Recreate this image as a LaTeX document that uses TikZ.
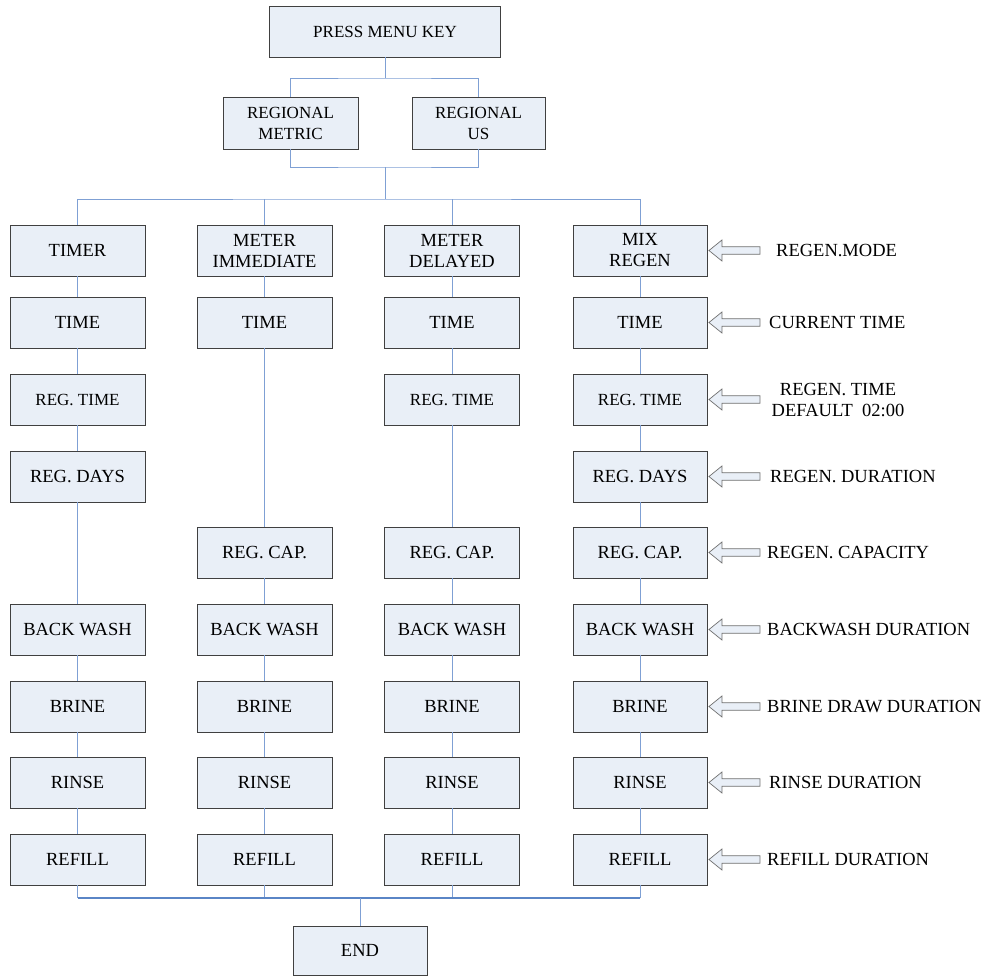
\documentclass[tikz,border=0pt]{standalone}
\usepackage{fontspec}
\setmainfont{Liberation Serif}
\definecolor{boxfill}{HTML}{E9EFF7}
\definecolor{boxline}{HTML}{404040}
\definecolor{connline}{HTML}{7FA0D4}
\definecolor{busline}{HTML}{5A85C6}
\definecolor{arrline}{HTML}{6E6E6E}
\begin{document}
\begin{tikzpicture}[x=1pt,y=-1pt,
  box/.style={draw=boxline,fill=boxfill,line width=0.9pt,minimum width=135pt,minimum height=51pt,inner sep=0pt,align=center,font=\fontsize{18.5}{21}\selectfont},
  topbox/.style={box,font=\fontsize{17}{21}\selectfont},
  narrowtxt/.style={font=\fontsize{17}{21}\selectfont},
  conn/.style={draw=connline,line width=0.8pt},
  bus/.style={draw=busline,line width=1.4pt},
  blockarrow/.style={draw=arrline,fill=boxfill,line width=0.7pt,line join=miter},
  lbl/.style={anchor=west,inner sep=0pt,align=center,font=\fontsize{18.5}{21}\selectfont}]
\useasboundingbox (0,0) rectangle (993,978);
% top
\node[topbox,minimum width=231pt] (pmk) at (385,31.5) {PRESS MENU KEY};
\node[topbox,minimum height=52pt] (rm) at (290.5,123) {REGIONAL\\METRIC};
\node[topbox,minimum width=133pt,minimum height=52pt] (ru) at (478.5,123) {REGIONAL\\US};
% column 1
\node[box] (c1r1) at (77.5,250.5) {TIMER};
\node[box] (c1r2) at (77.5,322.5) {TIME};
\node[box,narrowtxt] (c1r3) at (77.5,399.5) {REG. TIME};
\node[box] (c1r4) at (77.5,476.5) {REG. DAYS};
\node[box] (c1r6) at (77.5,629.5) {BACK WASH};
\node[box] (c1r7) at (77.5,706.5) {BRINE};
\node[box] (c1r8) at (77.5,782.5) {RINSE};
\node[box] (c1r9) at (77.5,859.5) {REFILL};
% column 2
\node[box] (c2r1) at (264.5,250.5) {METER\\IMMEDIATE};
\node[box] (c2r2) at (264.5,322.5) {TIME};
\node[box] (c2r5) at (264.5,552.5) {REG. CAP.};
\node[box] (c2r6) at (264.5,629.5) {BACK WASH};
\node[box] (c2r7) at (264.5,706.5) {BRINE};
\node[box] (c2r8) at (264.5,782.5) {RINSE};
\node[box] (c2r9) at (264.5,859.5) {REFILL};
% column 3
\node[box] (c3r1) at (452,250.5) {METER\\DELAYED};
\node[box] (c3r2) at (452,322.5) {TIME};
\node[box,narrowtxt] (c3r3) at (452,399.5) {REG. TIME};
\node[box] (c3r5) at (452,552.5) {REG. CAP.};
\node[box] (c3r6) at (452,629.5) {BACK WASH};
\node[box] (c3r7) at (452,706.5) {BRINE};
\node[box] (c3r8) at (452,782.5) {RINSE};
\node[box] (c3r9) at (452,859.5) {REFILL};
% column 4
\node[box,minimum width=134pt] (c4r1) at (640,250.5) {MIX\\REGEN};
\node[box,minimum width=134pt] (c4r2) at (640,322.5) {TIME};
\node[box,narrowtxt,minimum width=134pt] (c4r3) at (640,399.5) {REG. TIME};
\node[box,minimum width=134pt] (c4r4) at (640,476.5) {REG. DAYS};
\node[box,minimum width=134pt] (c4r5) at (640,552.5) {REG. CAP.};
\node[box,minimum width=134pt] (c4r6) at (640,629.5) {BACK WASH};
\node[box,minimum width=134pt] (c4r7) at (640,706.5) {BRINE};
\node[box,minimum width=134pt] (c4r8) at (640,782.5) {RINSE};
\node[box,minimum width=134pt] (c4r9) at (640,859.5) {REFILL};
% end
\node[box,minimum width=134pt,minimum height=49pt] (end) at (360,950.5) {END};
% connectors top
\coordinate (b1) at (385,78);
\coordinate (b2) at (385,167);
\coordinate (b3) at (385,199);
\coordinate (b4) at (360,898);
\draw[conn] (pmk) -- (b1);
\draw[conn] (rm.north) |- (b1) -| (ru.north);
\draw[conn] (rm.south) |- (b2) -| (ru.south);
\draw[conn] (b2) -- (b3);
\draw[conn] (c1r1.north) |- (b3) -| (c4r1.north);
\draw[conn] (c2r1.north) -- (c2r1.north |- b3);
\draw[conn] (c3r1.north) -- (c3r1.north |- b3);
% column chains
\draw[conn] (c1r1) -- (c1r2); \draw[conn] (c1r2) -- (c1r3); \draw[conn] (c1r3) -- (c1r4);
\draw[conn] (c1r4) -- (c1r6); \draw[conn] (c1r6) -- (c1r7); \draw[conn] (c1r7) -- (c1r8); \draw[conn] (c1r8) -- (c1r9);
\draw[conn] (c2r1) -- (c2r2); \draw[conn] (c2r2) -- (c2r5); \draw[conn] (c2r5) -- (c2r6);
\draw[conn] (c2r6) -- (c2r7); \draw[conn] (c2r7) -- (c2r8); \draw[conn] (c2r8) -- (c2r9);
\draw[conn] (c3r1) -- (c3r2); \draw[conn] (c3r2) -- (c3r3); \draw[conn] (c3r3) -- (c3r5); \draw[conn] (c3r5) -- (c3r6);
\draw[conn] (c3r6) -- (c3r7); \draw[conn] (c3r7) -- (c3r8); \draw[conn] (c3r8) -- (c3r9);
\draw[conn] (c4r1) -- (c4r2); \draw[conn] (c4r2) -- (c4r3); \draw[conn] (c4r3) -- (c4r4); \draw[conn] (c4r4) -- (c4r5);
\draw[conn] (c4r5) -- (c4r6); \draw[conn] (c4r6) -- (c4r7); \draw[conn] (c4r7) -- (c4r8); \draw[conn] (c4r8) -- (c4r9);
% bottom bus
\foreach \c in {c1r9,c2r9,c3r9,c4r9} {\draw[conn] (\c.south) -- (\c.south |- b4);}
\draw[bus] (c1r9.south |- b4) -- (c4r9.south |- b4);
\draw[conn] (b4) -- (end);
% block arrows and labels
\foreach \r in {1,...,9} {
  \draw[blockarrow] (c4r\r.east) ++(1.5,0) -- ++(13,-10.5) -- ++(0,6.8) -- ++(38,0) -- ++(0,7.4) -- ++(-38,0) -- ++(0,6.8) -- cycle;
}
\node[lbl] (l1) at (776,250.5) {REGEN.MODE};
\node[lbl] (l2) at (769,322.5) {CURRENT TIME};
\node[lbl,anchor=center] (l3) at (838,399.5) {REGEN. TIME\\DEFAULT\ \ 02:00};
\node[lbl] (l4) at (770,476.5) {REGEN. DURATION};
\node[lbl] (l5) at (767,552.5) {REGEN. CAPACITY};
\node[lbl] (l6) at (767,629.5) {BACKWASH DURATION};
\node[lbl] (l7) at (767,706.5) {BRINE DRAW DURATION};
\node[lbl] (l8) at (769,782.5) {RINSE DURATION};
\node[lbl] (l9) at (767,859.5) {REFILL DURATION};
\end{tikzpicture}
\end{document}
